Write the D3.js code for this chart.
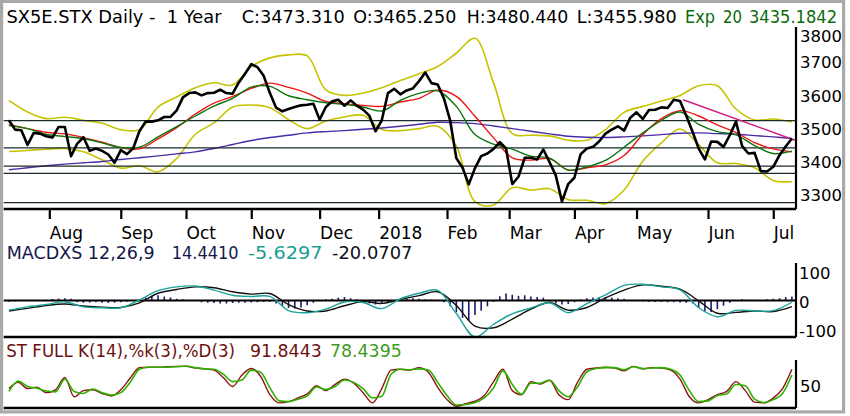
<!DOCTYPE html>
<html>
<head>
<meta charset="utf-8">
<script src="https://cdn.jsdelivr.net/npm/d3@7"></script>
<style>
  body { margin: 0; background: #fff; }
  svg { display: block; font-family: "DejaVu Sans", sans-serif; }
</style>
</head>
<body>
<div class="chart"></div>
<script>

// ---- data (trading-day index 0 = 12 Jul 2017, 253 = 10 Jul 2018) ----
var lastDay = 253;

// month ticks on the trading-day axis
var monthLabels = ['Aug', 'Sep', 'Oct', 'Nov', 'Dec', '2018', 'Feb', 'Mar', 'Apr', 'May', 'Jun', 'Jul'];
var monthDays = [14, 37, 58, 79, 101, 120, 142, 162, 183, 203, 226, 247];

var priceTicks = [3300, 3400, 3500, 3600, 3700, 3800];
var macdTicks = [-100, 0, 100];
var stochTicks = [50];

// daily close, every 2nd trading day starting at day 1
var closeStart = 1, closeStep = 2;
var closes = [3528, 3500, 3498, 3454, 3490, 3488, 3480, 3476, 3508, 3508,
  3420, 3458, 3477, 3436, 3443, 3436, 3425, 3400, 3438, 3426,
  3444, 3495, 3524, 3524, 3528, 3538, 3538, 3558, 3597, 3610,
  3612, 3603, 3610, 3611, 3620, 3610, 3608, 3642, 3668, 3697,
  3688, 3662, 3610, 3566, 3555, 3562, 3568, 3573, 3575, 3578,
  3530, 3568, 3585, 3590, 3572, 3588, 3572, 3560, 3542, 3495,
  3528, 3610, 3623, 3606, 3618, 3624, 3646, 3672, 3640, 3636,
  3594, 3528, 3414, 3385, 3335, 3384, 3420, 3428, 3442, 3462,
  3443, 3336, 3358, 3415, 3415, 3410, 3440, 3402, 3362, 3283,
  3336, 3355, 3426, 3443, 3448, 3465, 3488, 3500, 3510, 3497,
  3536, 3552, 3532, 3559, 3560, 3567, 3565, 3590, 3586, 3542,
  3494, 3443, 3410, 3464, 3463, 3448, 3483, 3524, 3450, 3428,
  3430, 3375, 3374, 3388, 3423, 3449, 3473];

// overlays, every 6th trading day starting at day 1
var maStart = 1, maStep = 6;
var ema20 = [3512, 3503, 3486, 3479, 3473, 3460, 3446, 3447, 3478, 3509,
  3541, 3571, 3594, 3628, 3630, 3602, 3590, 3581, 3576, 3568,
  3556, 3588, 3609, 3617, 3570, 3485, 3456, 3441, 3420, 3414,
  3378, 3388, 3407, 3447, 3490, 3528, 3553, 3516, 3494, 3484,
  3452, 3428, 3435];
var maRed = [3515, 3503, 3492, 3487, 3476, 3462, 3446, 3442, 3472, 3506,
  3547, 3580, 3600, 3624, 3640, 3627, 3610, 3585, 3578, 3573,
  3570, 3583, 3594, 3619, 3600, 3540, 3475, 3415, 3408, 3413,
  3378, 3385, 3394, 3422, 3485, 3533, 3557, 3541, 3514, 3491,
  3461, 3442, 3433];
var ma200 = [3379, 3385, 3391, 3396, 3400, 3404, 3410, 3415, 3421, 3427,
  3433, 3443, 3455, 3467, 3476, 3483, 3490, 3494, 3497, 3501,
  3505, 3510, 3516, 3522, 3521, 3518, 3511, 3503, 3495, 3487,
  3480, 3477, 3476, 3478, 3481, 3485, 3489, 3490, 3488, 3486,
  3482, 3478, 3473];
var bandUpper = [3588, 3553, 3533, 3537, 3528, 3519, 3500, 3500, 3568, 3598,
  3626, 3641, 3634, 3690, 3716, 3725, 3722, 3620, 3603, 3610,
  3626, 3648, 3668, 3690, 3730, 3775, 3640, 3488, 3483, 3481,
  3468, 3468, 3500, 3552, 3570, 3586, 3603, 3632, 3632, 3562,
  3529, 3532, 3523];
var bandLower = [3434, 3437, 3441, 3443, 3433, 3409, 3384, 3391, 3373, 3413,
  3486, 3520, 3568, 3574, 3566, 3530, 3503, 3526, 3538, 3543,
  3500, 3497, 3503, 3510, 3450, 3283, 3273, 3325, 3318, 3322,
  3289, 3287, 3277, 3318, 3405, 3460, 3502, 3455, 3400, 3398,
  3385, 3347, 3343];

// drawn trendline and horizontal levels
var trendDays = [218, 254];
var trendValues = [3590, 3468];
var levels = [3527, 3445, 3390, 3368, 3280];

// MACD 12,26,9 (every 6th day) and histogram (every 2nd day)
var macd = [-33, -22, -14, -5, -22, -25, -25, 2, 34, 47,
  50, 36, 18, 14, 14, -35, -42, -30, -5, -7,
  -28, 6, 25, 35, -45, -126, -82, -46, -26, -8,
  -42, -11, 19, 52, 56, 47, 37, -25, -56, -34,
  -36, -35, -6];
var signal = [-36, -27, -17, -12, -19, -23, -24, -8, 25, 38,
  47, 44, 30, 22, 24, -14, -36, -36, -18, -4,
  -10, 4, 17, 30, -17, -88, -94, -64, -30, -7,
  -33, -24, 9, 36, 54, 49, 39, -1, -44, -41,
  -36, -38, -21];
var hist = [-4, -3, -2, -1, 1, 2, 3, 5, 7, 8,
  6, -6, -8, -7, -6, -8, -9, -8, -6, -4,
  -2, 2, 10, 16, 18, 14, 10, 6, 4, 2,
  -2, -6, -8, -9, -10, -10, -9, -8, -8, -7,
  -6, -5, -4, -10, -18, -26, -28, -24, -16, -8,
  -2, 4, 6, 10, 12, 8, 4, -4, -10, -14,
  -12, -6, 2, 6, 8, 8, 6, 4, 3, 0,
  -6, -20, -40, -60, -70, -50, -35, -20, -5, 15,
  24, 20, 16, 18, 14, 12, 10, -4, -10, -14,
  -12, -6, 4, 8, 10, 12, 12, 10, 8, 6,
  2, -2, -3, -4, -5, -5, -6, -6, -7, -8,
  -10, -25, -38, -40, -30, -18, -8, 2, 4, 2,
  0, -2, 4, 6, 8, 12, 14];

// full stochastic, every 3rd day
var stochStart = 1, stochStep = 3;
var stochK = [45, 60, 45, 48, 35, 42, 72, 25, 40, 42,
  33, 27, 42, 70, 96, 97, 97, 98, 99, 99,
  95, 93, 90, 72, 50, 78, 94, 75, 30, 10,
  13, 22, 32, 52, 40, 55, 68, 58, 35, 10,
  45, 90, 92, 90, 96, 85, 48, 18, 2, 8,
  14, 28, 62, 92, 40, 30, 62, 56, 65, 30,
  18, 60, 92, 95, 97, 95, 88, 99, 93, 96,
  95, 90, 68, 25, 10, 18, 30, 38, 62, 40,
  12, 10, 22, 45, 92];
var stochD = [38, 63, 50, 46, 39, 37, 68, 38, 33, 44,
  35, 29, 35, 60, 92, 97, 97, 97, 98, 100,
  96, 93, 92, 80, 62, 66, 90, 85, 47, 15,
  13, 19, 27, 49, 43, 50, 66, 60, 45, 22,
  26, 80, 92, 91, 93, 90, 60, 28, 5, 6,
  11, 22, 47, 88, 55, 31, 58, 58, 66, 40,
  25, 49, 86, 94, 96, 96, 91, 98, 94, 95,
  96, 92, 78, 40, 13, 15, 28, 32, 55, 52,
  19, 11, 18, 33, 78];

// ---- layout ----
var width = 850, height = 416;
var left = 3.5, axisX = 796;

var svg = d3.select('.chart').append('svg')
    .attr('width', width)
    .attr('height', height);

// bevelled grey frame
svg.append('rect')
    .attr('x', 1.6).attr('y', 1.4)
    .attr('width', 842).attr('height', 410.5)
    .attr('fill', '#fff')
    .attr('stroke', '#a9a9a9')
    .attr('stroke-width', 3.2);

svg.append('clipPath').attr('id', 'inner')
  .append('rect')
    .attr('x', 3.4).attr('y', 3).attr('width', 838.6).attr('height', 407);

var g = svg.append('g').attr('clip-path', 'url(#inner)');

var x = d3.scaleLinear().domain([0, lastDay]).range([5.8, 791.9]);
var yPrice = d3.scaleLinear().domain([3300, 3800]).range([196, 30]);
var yMacd = d3.scaleLinear().domain([-100, 100]).range([329.5, 271.5]);
var yStoch = d3.scaleLinear().domain([0, 100]).range([407, 366]);

// line along a series sampled every `step` days
function series(y, start, step, curve) {
  return d3.line()
      .x((d, i) => x(start + i * step))
      .y((d) => y(d))
      .curve(curve || d3.curveLinear);
}

function drawLine(data, gen, color, w) {
  g.append('path')
      .datum(data)
      .attr('d', gen)
      .attr('fill', 'none')
      .attr('stroke', color)
      .attr('stroke-width', w)
      .attr('stroke-linejoin', 'round');
}

function hline(y, w, color) {
  g.append('line')
      .attr('x1', left).attr('x2', axisX)
      .attr('y1', y).attr('y2', y)
      .attr('stroke', color || '#000')
      .attr('stroke-width', w);
}

function vaxis(y1, y2) {
  g.append('line')
      .attr('x1', axisX).attr('x2', axisX)
      .attr('y1', y1).attr('y2', y2)
      .attr('stroke', '#000')
      .attr('stroke-width', 2.2);
}

// title pieces, fitted to the width they take in the original
function label(txt, px, py, color, w) {
  g.append('text')
      .attr('x', px).attr('y', py)
      .attr('font-size', 17)
      .attr('fill', color)
      .attr('textLength', w)
      .attr('lengthAdjust', 'spacingAndGlyphs')
      .style('white-space', 'pre')
      .text(txt);
}

function styleTicks(sel, size) {
  sel.select('.domain').remove();
  sel.selectAll('text')
      .attr('font-family', '"DejaVu Sans", sans-serif')
      .attr('font-size', size)
      .attr('fill', '#000');
}

var plain = (d) => String(d);

// ****************** Price panel ******************

var smooth = d3.curveCatmullRom.alpha(0.5);

drawLine(bandUpper, series(yPrice, maStart, maStep, smooth), '#c6c400', 1.6);
drawLine(bandLower, series(yPrice, maStart, maStep, smooth), '#c6c400', 1.6);
drawLine(ma200, series(yPrice, maStart, maStep, smooth), '#4a2ba6', 1.4);

levels.forEach((v) => { hline(yPrice(v), 1.4, '#1b2b2b'); });

g.append('line')
    .attr('x1', x(trendDays[0])).attr('x2', x(trendDays[1]))
    .attr('y1', yPrice(trendValues[0])).attr('y2', yPrice(trendValues[1]))
    .attr('stroke', '#d01f80')
    .attr('stroke-width', 1.4);

drawLine(maRed, series(yPrice, maStart, maStep, smooth), '#f01212', 1.4);
drawLine(ema20, series(yPrice, maStart, maStep, smooth), '#0b760b', 1.4);
drawLine(closes, series(yPrice, closeStart, closeStep), '#000', 2.6);

hline(209, 2.4);
vaxis(27, 209);

// price labels on the right, top one held inside the panel
var py = g.append('g')
    .attr('transform', 'translate(' + axisX + ',0)')
    .call(d3.axisRight(yPrice).tickValues(priceTicks).tickFormat(plain)
        .tickSize(0).tickPadding(4));
py.selectAll('.tick')
    .attr('transform', (d) => 'translate(0,' + Math.max(yPrice(d), 36.5) + ')');
styleTicks(py, 16.5);

// month axis
var mx = g.append('g')
    .attr('transform', 'translate(0,209)')
    .call(d3.axisBottom(x)
        .tickValues(monthDays)
        .tickFormat((d, i) => monthLabels[i])
        .tickSize(10)
        .tickPadding(8));
styleTicks(mx, 17);
mx.selectAll('line').attr('stroke', '#000').attr('stroke-width', 2.2);
mx.selectAll('text').attr('text-anchor', 'start').attr('x', 0);

// header
label('SX5E.STX Daily -  1 Year', 6.5, 22.7, '#000', 215);
label('C:3473.310', 241.7, 22.7, '#000', 103);
label('O:3465.250', 353.3, 22.7, '#000', 103);
label('H:3480.440', 466.7, 22.7, '#000', 101.6);
label('L:3455.980', 576.7, 22.7, '#000', 100);
label('Exp', 685, 22.7, '#0b6b0b', 30);
label('20', 723, 22.7, '#0b6b0b', 19);
label('3435.1842', 749, 22.7, '#0b6b0b', 88);

// ****************** MACD panel ******************

label('MACDXS 12,26,9', 6.7, 259.3, '#14184a', 148);
label('14.4410', 171.7, 259.3, '#14184a', 67);
label('-5.6297', 248, 259.3, '#1b9e92', 74.5);
label('-20.0707', 332, 259.3, '#101020', 80.5);

g.append('g').selectAll('line')
    .data(hist)
  .enter().append('line')
    .attr('x1', (d, i) => x(closeStart + i * closeStep))
    .attr('x2', (d, i) => x(closeStart + i * closeStep))
    .attr('y1', yMacd(0))
    .attr('y2', (d) => yMacd(d))
    .attr('stroke', '#1c1c6e')
    .attr('stroke-width', 1.6);

hline(yMacd(0), 2.2);
drawLine(signal, series(yMacd, maStart, maStep, smooth), '#111', 1.4);
drawLine(macd, series(yMacd, maStart, maStep, smooth), '#1ba398', 1.4);

hline(337, 2.4);
vaxis(263, 337);

var my = g.append('g')
    .attr('transform', 'translate(' + axisX + ',0)')
    .call(d3.axisRight(yMacd).tickValues(macdTicks).tickFormat(plain)
        .tickSize(0).tickPadding(3));
styleTicks(my, 16.5);
my.selectAll('text').attr('dy', '0.42em');

// ****************** Stochastic panel ******************

label('ST FULL K(14),%k(3),%D(3)', 6.3, 356.7, '#6e1010', 228.7);
label('91.8443', 250, 356.7, '#6e1010', 71.7);
label('78.4395', 330, 356.7, '#3c9c1c', 71.7);

drawLine(stochK, series(yStoch, stochStart, stochStep, d3.curveMonotoneX), '#8e1212', 1.4);
drawLine(stochD, series(yStoch, stochStart, stochStep, d3.curveMonotoneX), '#2fb000', 1.6);

hline(408, 2.4);
vaxis(360, 408);

var sy = g.append('g')
    .attr('transform', 'translate(' + axisX + ',0)')
    .call(d3.axisRight(yStoch).tickValues(stochTicks).tickFormat(plain)
        .tickSize(0).tickPadding(4));
styleTicks(sy, 16.5);

</script>
</body>
</html>
